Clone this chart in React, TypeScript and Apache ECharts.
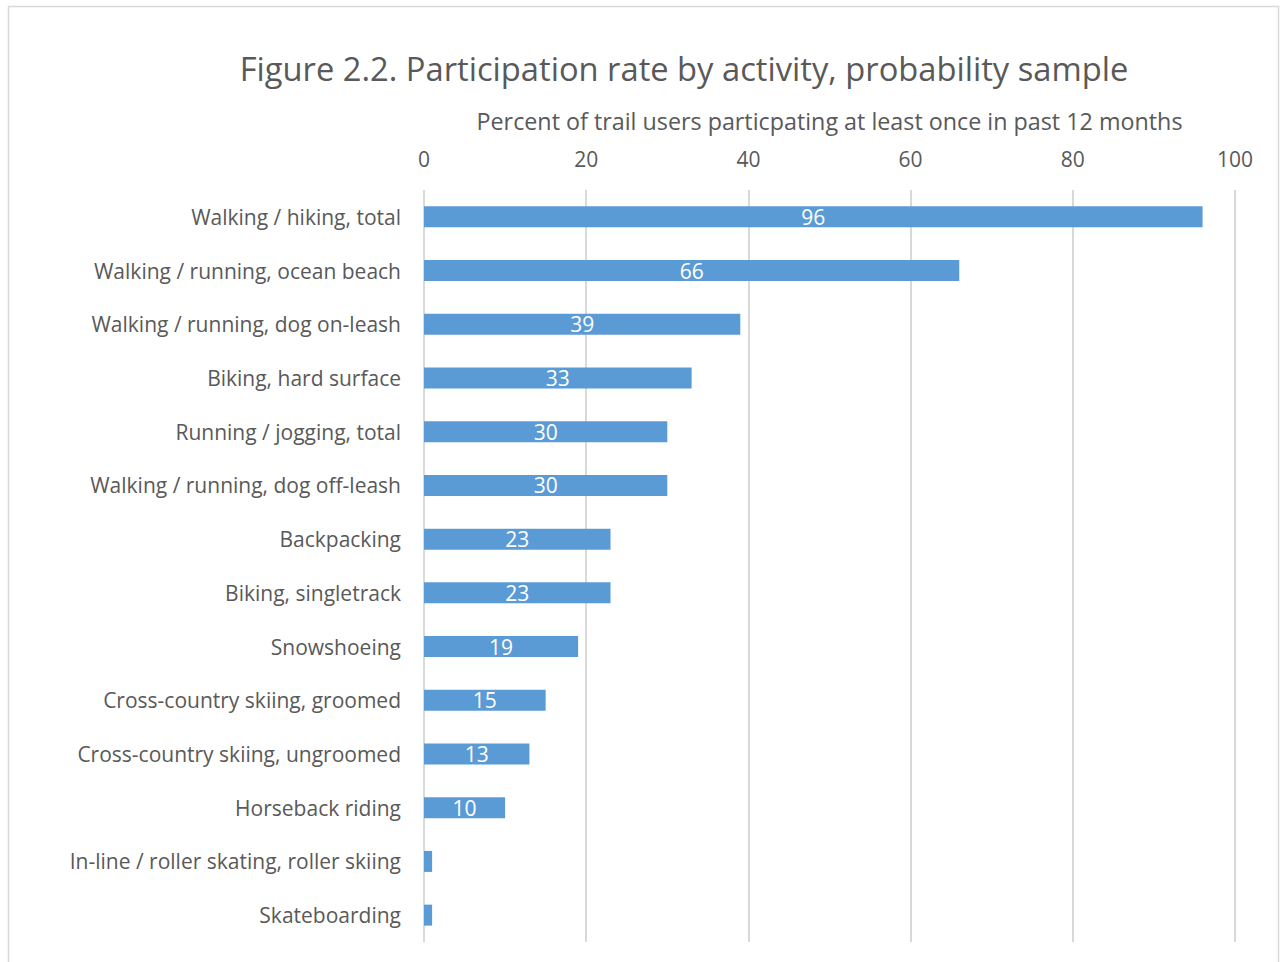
import React, { useEffect, useRef } from "react";
import * as echarts from "echarts";

const categories = [
  "Walking / hiking, total",
  "Walking / running, ocean beach",
  "Walking / running, dog on-leash",
  "Biking, hard surface",
  "Running / jogging, total",
  "Walking / running, dog off-leash",
  "Backpacking",
  "Biking, singletrack",
  "Snowshoeing",
  "Cross-country skiing, groomed",
  "Cross-country skiing, ungroomed",
  "Horseback riding",
  "In-line / roller skating, roller skiing",
  "Skateboarding",
];
const values = [96, 66, 39, 33, 30, 30, 23, 23, 19, 15, 13, 10, 1, 1];
const xTicks = [0, 20, 40, 60, 80, 100];

const TITLE = "Figure 2.2. Participation rate by activity, probability sample";
const AXIS_NAME = "Percent of trail users particpating at least once in past 12 months";
const FONT = "'Open Sans', 'Noto Sans', sans-serif";
const TEXT = "#595959";

export default function App() {
  const ref = useRef<HTMLDivElement>(null);
  useEffect(() => {
    document.body.style.margin = "0";
    const chart = echarts.init(ref.current!, null, { renderer: "svg" });
    chart.setOption({
      animation: false,
      textStyle: { fontFamily: FONT },
      title: {
        text: TITLE,
        left: 679,
        textAlign: "center",
        top: 47,
        textStyle: { fontFamily: FONT, fontSize: 32.7, fontWeight: "normal", color: TEXT },
      },
      graphic: [
        {
          type: "rect",
          shape: { x: 8.5, y: 6.5, width: 1270, height: 980 },
          style: { fill: "none", stroke: "#d9d9d9", lineWidth: 1.5 },
          silent: true,
        },
      ],
      grid: { left: 424, right: 46, top: 190, bottom: 20, containLabel: false },
      xAxis: {
        type: "value",
        position: "top",
        min: xTicks[0],
        max: xTicks[xTicks.length - 1],
        interval: 20,
        name: AXIS_NAME,
        nameLocation: "middle",
        nameGap: 58,
        nameTextStyle: { fontFamily: FONT, fontSize: 23.3, color: TEXT },
        axisLine: { show: false },
        axisTick: { show: false },
        axisLabel: { fontFamily: FONT, fontSize: 21, color: TEXT, margin: 21 },
        splitLine: { show: true, lineStyle: { color: "#d9d9d9", width: 2 } },
      },
      yAxis: {
        type: "category",
        inverse: true,
        data: categories,
        axisLine: { show: false },
        axisTick: { show: false },
        axisLabel: { fontFamily: FONT, fontSize: 21, color: TEXT, margin: 23 },
      },
      series: [
        {
          type: "bar",
          data: values,
          barWidth: 21,
          itemStyle: { color: "#5B9BD5" },
          label: {
            show: true,
            position: "inside",
            color: "#ffffff",
            fontFamily: FONT,
            fontSize: 21,
            formatter: (p: any) => (p.value >= 5 ? String(p.value) : ""),
          },
        },
      ],
    });
    return () => chart.dispose();
  }, []);
  return <div ref={ref} style={{ width: 1281, height: 962 }} />;
}
